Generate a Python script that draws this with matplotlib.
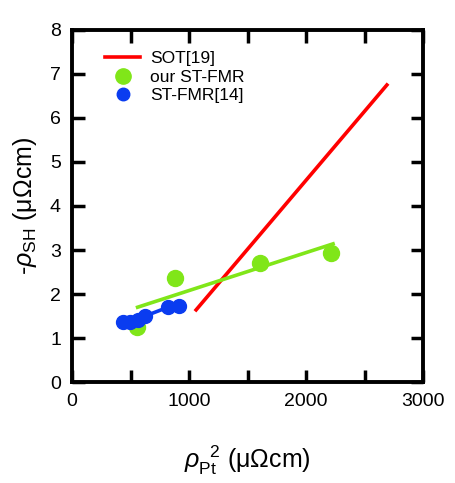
import matplotlib
matplotlib.use("Agg")
import matplotlib.pyplot as plt
from matplotlib.ticker import MultipleLocator
from matplotlib.lines import Line2D

plt.rcParams['font.family'] = ['Liberation Sans', 'DejaVu Sans']
plt.rcParams['mathtext.fontset'] = 'custom'
plt.rcParams['mathtext.rm'] = 'Liberation Sans'
plt.rcParams['mathtext.it'] = 'Liberation Sans:italic'

# Data
sot_x = [1060, 2690]
sot_y = [1.64, 6.75]

our_x = [551, 881, 1610, 2212]
our_y = [1.25, 2.36, 2.70, 2.93]
our_fit_x = [560, 2230]
our_fit_y = [1.70, 3.14]

ref_x = [436, 496, 564, 624, 820, 915]
ref_y = [1.36, 1.37, 1.41, 1.50, 1.70, 1.73]

fig = plt.figure(figsize=(4.56, 4.83), dpi=100)
ax = fig.add_axes([0.158, 0.209, 0.77, 0.729])

ax.plot(sot_x, sot_y, color='#ff0000', lw=2.6)
ax.plot(our_fit_x, our_fit_y, color='#80e619', lw=2.6)
ax.plot(our_x, our_y, 'o', color='#80e619', ms=11.5)
ax.plot(ref_x, ref_y, '-o', color='#0a3cf0', ms=10, lw=2.6)

ax.set_xlim(0, 3000)
ax.set_ylim(0, 8)
ax.xaxis.set_major_locator(MultipleLocator(1000))
ax.xaxis.set_minor_locator(MultipleLocator(500))
ax.yaxis.set_major_locator(MultipleLocator(1))
ax.tick_params(which='both', direction='in', top=True, right=True, width=2.5, labelsize=14, pad=8)
ax.tick_params(which='major', length=9)
ax.tick_params(which='minor', length=9)
for s in ax.spines.values():
    s.set_linewidth(2.8)

ax.set_xlabel(r'$\rho_{\rm Pt}^{\ \ 2}$ (μΩcm)', fontsize=18, labelpad=24)
ax.set_ylabel(r'-$\rho_{\rm SH}$ (μΩcm)', fontsize=18, labelpad=8)

handles = [
    Line2D([], [], color='#ff0000', lw=2.6),
    Line2D([], [], marker='o', ls='', color='#80e619', ms=11),
    Line2D([], [], marker='o', ls='', color='#0a3cf0', ms=9),
]
ax.legend(handles, ['SOT[19]', 'our ST-FMR', 'ST-FMR[14]'], loc='upper left',
          frameon=False, fontsize=12.5, handlelength=2.0, handletextpad=0.6,
          labelspacing=0.2, bbox_to_anchor=(0.05, 0.985))

fig.savefig('out.png', dpi=100)
